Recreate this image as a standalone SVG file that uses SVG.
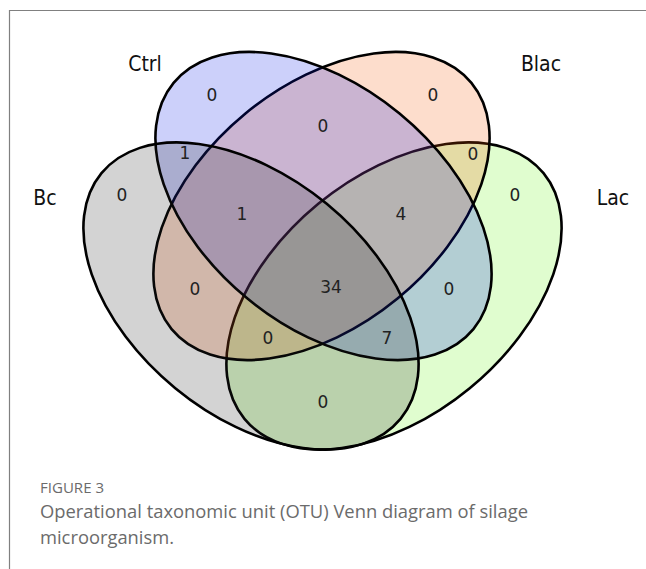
<svg xmlns="http://www.w3.org/2000/svg" width="646" height="569" viewBox="0 0 646 569">
  <style>
    .set { stroke: #000; stroke-width: 2.6; fill-opacity: 0.2; }
    .lbl { font-family: "DejaVu Sans Condensed", "DejaVu Sans", sans-serif; font-size: 21px; fill: #111; text-anchor: middle; }
    .num { font-family: "DejaVu Sans", sans-serif; font-size: 17px; fill: #222; text-anchor: middle; }
    .cap { font-family: "Open Sans", "Noto Sans", sans-serif; fill: #6b6b6b; }
  </style>
  <rect width="646" height="569" fill="#fff"/>
  <path d="M9.5 569 V10.5 H646" fill="none" stroke="#808080" stroke-width="1.2"/>

  <g id="Lac">
    <ellipse class="set" cx="394" cy="296" rx="193.5" ry="119.3" transform="rotate(-39.4 394 296)" fill="#64f50f"/>
  </g>
  <g id="Blac">
    <ellipse class="set" cx="321.5" cy="206" rx="194" ry="119.8" transform="rotate(-39.4 321.5 206)" fill="#f55500"/>
  </g>
  <g id="Ctrl">
    <ellipse class="set" cx="323.5" cy="206" rx="194" ry="119.8" transform="rotate(39.4 323.5 206)" fill="#0014e6"/>
  </g>
  <g id="Bc">
    <ellipse class="set" cx="251" cy="296" rx="193.5" ry="119.3" transform="rotate(39.4 251 296)" fill="#232323"/>
  </g>

  <g id="labels">
    <text class="lbl" x="145" y="71">Ctrl</text>
    <text class="lbl" x="541" y="71">Blac</text>
    <text class="lbl" x="45" y="205">Bc</text>
    <text class="lbl" x="613" y="205">Lac</text>
  </g>

  <g id="counts">
    <text class="num" x="212" y="101">0</text>
    <text class="num" x="433" y="101">0</text>
    <text class="num" x="323" y="132">0</text>
    <text class="num" x="185" y="159">1</text>
    <text class="num" x="473" y="160">0</text>
    <text class="num" x="122" y="201">0</text>
    <text class="num" x="515" y="201">0</text>
    <text class="num" x="242" y="220">1</text>
    <text class="num" x="401" y="220">4</text>
    <text class="num" x="331" y="293">34</text>
    <text class="num" x="195" y="295">0</text>
    <text class="num" x="449" y="295">0</text>
    <text class="num" x="268" y="344">0</text>
    <text class="num" x="387" y="344">7</text>
    <text class="num" x="323" y="408">0</text>
  </g>

  <g id="caption">
    <text class="cap" x="40" y="493" font-size="15" textLength="64" lengthAdjust="spacingAndGlyphs">FIGURE 3</text>
    <text class="cap" x="40" y="518" font-size="18" textLength="488" lengthAdjust="spacingAndGlyphs">Operational taxonomic unit (OTU) Venn diagram of silage</text>
    <text class="cap" x="40" y="544" font-size="18" textLength="134" lengthAdjust="spacingAndGlyphs">microorganism.</text>
  </g>
</svg>
